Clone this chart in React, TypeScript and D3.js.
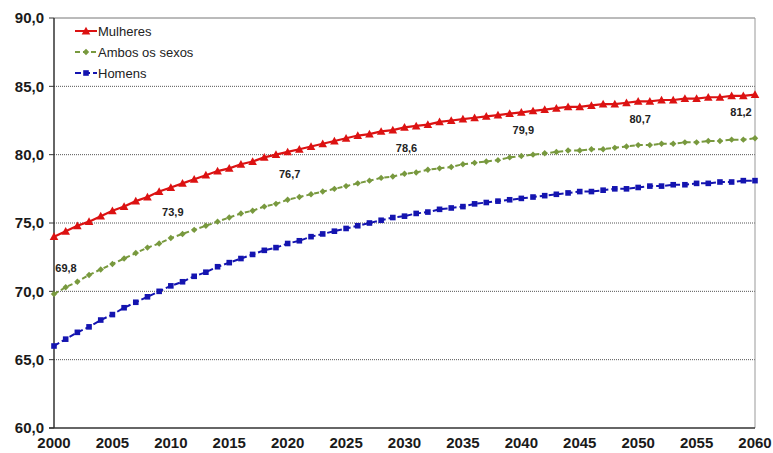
import React from "react";
import * as d3 from "d3";

const years: number[] = d3.range(2000, 2061);

const mulheres: number[] = [
  74.0, 74.4, 74.8, 75.1, 75.5, 75.9, 76.2, 76.6, 76.9, 77.3, 77.6,
  77.9, 78.2, 78.5, 78.8, 79.0, 79.3, 79.5, 79.8, 80.0, 80.2,
  80.4, 80.6, 80.8, 81.0, 81.2, 81.4, 81.5, 81.7, 81.8, 82.0,
  82.1, 82.2, 82.4, 82.5, 82.6, 82.7, 82.8, 82.9, 83.0, 83.1,
  83.2, 83.3, 83.4, 83.5, 83.5, 83.6, 83.7, 83.7, 83.8, 83.9,
  83.9, 84.0, 84.0, 84.1, 84.1, 84.2, 84.2, 84.3, 84.3, 84.4,
];

const ambos: number[] = [
  69.8, 70.3, 70.7, 71.2, 71.6, 72.0, 72.4, 72.8, 73.2, 73.5, 73.9,
  74.2, 74.5, 74.8, 75.1, 75.4, 75.7, 75.9, 76.2, 76.4, 76.7,
  76.9, 77.1, 77.3, 77.5, 77.7, 77.9, 78.1, 78.3, 78.4, 78.6,
  78.7, 78.9, 79.0, 79.1, 79.3, 79.4, 79.5, 79.6, 79.8, 79.9,
  80.0, 80.1, 80.2, 80.3, 80.3, 80.4, 80.4, 80.5, 80.6, 80.7,
  80.7, 80.8, 80.8, 80.9, 80.9, 81.0, 81.0, 81.1, 81.1, 81.2,
];

const homens: number[] = [
  66.0, 66.5, 67.0, 67.4, 67.9, 68.3, 68.8, 69.2, 69.6, 70.0, 70.4,
  70.7, 71.1, 71.4, 71.8, 72.1, 72.4, 72.7, 73.0, 73.2, 73.5,
  73.7, 74.0, 74.2, 74.4, 74.6, 74.8, 75.0, 75.2, 75.4, 75.5,
  75.7, 75.8, 76.0, 76.1, 76.2, 76.4, 76.5, 76.6, 76.7, 76.8,
  76.9, 77.0, 77.1, 77.2, 77.3, 77.3, 77.4, 77.5, 77.5, 77.6,
  77.7, 77.7, 77.8, 77.8, 77.9, 77.9, 78.0, 78.0, 78.1, 78.1,
];

const labelYears: number[] = [2000, 2010, 2020, 2030, 2040, 2050, 2060];
const labelTexts: string[] = ["69,8", "73,9", "76,7", "78,6", "79,9", "80,7", "81,2"];

const xTicks: number[] = [2000, 2005, 2010, 2015, 2020, 2025, 2030, 2035, 2040, 2045, 2050, 2055, 2060];
const yTicks: number[] = [60, 65, 70, 75, 80, 85, 90];

const seriesNames: string[] = ["Mulheres", "Ambos os sexos", "Homens"];

const W = 773;
const H = 453;
const L = 54;
const R = 755;
const T = 18;
const B = 428;

const RED = "#dc1212";
const GREEN = "#78993e";
const BLUE = "#1414b0";

function Marker({ kind, x, y, color }: { kind: string; x: number; y: number; color: string }) {
  if (kind === "tri") {
    const s = 4.3;
    return <path d={`M${x},${y - s} L${x + s},${y + s * 0.8} L${x - s},${y + s * 0.8} Z`} fill={color} />;
  }
  if (kind === "dia") {
    const s = 3.2;
    return <path d={`M${x},${y - s} L${x + s},${y} L${x},${y + s} L${x - s},${y} Z`} fill={color} />;
  }
  const s = 2.8;
  return <rect x={x - s} y={y - s} width={s * 2} height={s * 2} fill={color} />;
}

export default function App() {
  const x = d3.scaleLinear().domain([2000, 2060]).range([L, R]);
  const y = d3.scaleLinear().domain([60, 90]).range([B, T]);

  const series = [
    { name: seriesNames[0], values: mulheres, color: RED, kind: "tri", dash: "none", width: 2.2 },
    { name: seriesNames[1], values: ambos, color: GREEN, kind: "dia", dash: "5,3", width: 2 },
    { name: seriesNames[2], values: homens, color: BLUE, kind: "sq", dash: "6,3", width: 2 },
  ];

  const line = d3
    .line<number>()
    .x((_, i) => x(years[i]))
    .y((d) => y(d));

  return (
    <svg width={W} height={H} style={{ position: "absolute", left: 0, top: 0, background: "#fff" }}>
      <rect x={0} y={0} width={W} height={H} fill="#fff" />
      {yTicks
        .filter((t) => t !== 60 && t !== 90)
        .map((t) => (
          <line key={t} x1={L} x2={R} y1={y(t)} y2={y(t)} stroke="#555" strokeWidth={1} strokeDasharray="1,1" />
        ))}
      <line x1={L} x2={R} y1={y(90)} y2={y(90)} stroke="#777" strokeWidth={1} />
      <line x1={R} x2={R} y1={T} y2={B} stroke="#999" strokeWidth={1} />
      <line x1={L} x2={L} y1={T} y2={B} stroke="#333" strokeWidth={1.5} />
      <line x1={L - 5} x2={R} y1={B} y2={B} stroke="#333" strokeWidth={1.5} />
      {yTicks.map((t) => (
        <g key={t}>
          <line x1={L - 5} x2={L} y1={y(t)} y2={y(t)} stroke="#333" strokeWidth={1} />
          <text
            x={L - 10}
            y={y(t)}
            dy="0.35em"
            textAnchor="end"
            fontFamily="Liberation Sans, Arial, sans-serif"
            fontWeight="bold"
            fontSize={15}
            fill="#1a1a1a"
          >
            {t.toFixed(1).replace(".", ",")}
          </text>
        </g>
      ))}
      {xTicks.map((t) => (
        <text
          key={t}
          x={x(t)}
          y={448}
          textAnchor="middle"
          fontFamily="Liberation Sans, Arial, sans-serif"
          fontWeight="bold"
          fontSize={15}
          fill="#1a1a1a"
        >
          {t}
        </text>
      ))}
      {series.map((s) => (
        <g key={s.name}>
          <path d={line(s.values) || ""} fill="none" stroke={s.color} strokeWidth={s.width} strokeDasharray={s.dash} />
          {s.values.map((v, i) => (
            <Marker key={i} kind={s.kind} x={x(years[i])} y={y(v)} color={s.color} />
          ))}
        </g>
      ))}
      {labelYears.map((yr, i) => {
        const v = ambos[years.indexOf(yr)];
        const px = i === 0 ? x(yr) + 12 : i === labelYears.length - 1 ? x(yr) - 14 : x(yr) + 2;
        return (
          <text
            key={yr}
            x={px}
            y={y(v) - 22}
            textAnchor="middle"
            fontFamily="Liberation Sans, Arial, sans-serif"
            fontWeight="bold"
            fontSize={11}
            fill="#222"
          >
            {labelTexts[i]}
          </text>
        );
      })}
      {series.map((s, i) => {
        const ly = 31 + i * 21;
        return (
          <g key={s.name}>
            <line x1={75} x2={97} y1={ly} y2={ly} stroke={s.color} strokeWidth={2} strokeDasharray={s.dash} />
            <Marker kind={s.kind} x={86} y={ly} color={s.color} />
            <text
              x={98}
              y={ly}
              dy="0.35em"
              fontFamily="Liberation Sans, Arial, sans-serif"
              fontSize={13}
              fill="#222"
            >
              {s.name}
            </text>
          </g>
        );
      })}
    </svg>
  );
}
